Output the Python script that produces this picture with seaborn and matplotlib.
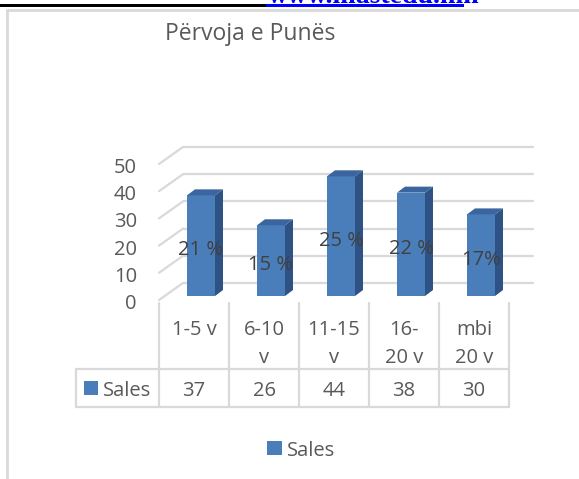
import pandas as pd
import seaborn as sns
import matplotlib.pyplot as plt
from matplotlib.patches import Polygon, Rectangle
from matplotlib.transforms import ScaledTranslation, blended_transform_factory

# data
categories = ['1-5 v', '6-10 v', '11-15 v', '16-20 v', 'mbi 20 v']
category_lines = [['1-5 v'], ['6-10', 'v'], ['11-15', 'v'], ['16-', '20 v'], ['mbi', '20 v']]
sales = [37, 26, 44, 38, 30]
pct_labels = ['21 %', '15 %', '25 %', '22 %', '17%']
y_ticks = [0, 10, 20, 30, 40, 50]
series_name = 'Sales'
chart_title = 'Përvoja e Punës'
link_text = 'www.mastedu.mn'

sns.set_theme(style='white')
plt.rcParams['font.family'] = ['Open Sans', 'DejaVu Sans']

FRONT = '#4a7ebb'
SIDE = '#2f5285'
TOP = '#3a659e'
GRID = '#d9d9d9'
TXT = '#595959'
FS = 14.5

W, H = 579, 479
fig = plt.figure(figsize=(W / 100, H / 100), dpi=100)

# overlay in pixel units for frame, table and legend
ov = fig.add_axes([0, 0, 1, 1])
ov.set_xlim(0, W)
ov.set_ylim(H, 0)
ov.axis('off')

# front plane of the 3d plot
x0, x1, y0, y1 = 159, 509, 300, 164
ax = fig.add_axes([x0 / W, 1 - y0 / H, (x1 - x0) / W, (y0 - y1) / H])

df = pd.DataFrame({'category': categories, 'sales': sales})
sns.barplot(data=df, x='category', y='sales', order=categories, color=FRONT,
            saturation=1, width=0.4, ax=ax)
ax.set_xlim(-0.5, 4.5)
ax.set_ylim(0, 50)
ax.axis('off')

px_x = (x1 - x0) / len(categories)
px_y = (y0 - y1) / 50


def shift(dx, dy):
    return ax.transData + ScaledTranslation(dx / 100, dy / 100, fig.dpi_scale_trans)


# back wall gridlines + floor diagonals
for v in y_ticks:
    ax.plot([-0.5, 4.5], [v, v], transform=shift(24, 17), color=GRID, lw=1.6,
            clip_on=False, zorder=0)
    ax.plot([-0.5, -0.5 + 24 / px_x], [v, v + 17 / px_y], color=GRID, lw=1.6,
            clip_on=False, zorder=0)

# 3d bars
bar_tr = shift(7, 4)
ddx, ddy = 8 / px_x, 6 / px_y
for p, lab in zip(ax.patches, pct_labels):
    p.set_transform(bar_tr)
    p.set_linewidth(0)
    p.set_zorder(2)
    xl, w, h = p.get_x(), p.get_width(), p.get_height()
    side = Polygon([(xl + w, 0), (xl + w, h), (xl + w + ddx, h + ddy), (xl + w + ddx, ddy)],
                   closed=True, facecolor=SIDE, lw=0, transform=bar_tr, zorder=2, clip_on=False)
    top = Polygon([(xl, h), (xl + w, h), (xl + w + ddx, h + ddy), (xl + ddx, h + ddy)],
                  closed=True, facecolor=TOP, lw=0, transform=bar_tr, zorder=2, clip_on=False)
    ax.add_patch(side)
    ax.add_patch(top)
    ax.text(xl + w / 2, h / 2, lab, transform=shift(7, -5.5), ha='center', va='baseline',
            fontsize=FS, color='#404040', zorder=3)

# y tick labels
tick_tr = blended_transform_factory(ov.transData, ax.transData) + \
    ScaledTranslation(0, -9 / 100, fig.dpi_scale_trans)
for v in y_ticks:
    ov.text(137, v, str(v), transform=tick_tr, ha='right', va='baseline',
            fontsize=FS, color=TXT)

# data table
for k in range(len(categories) + 1):
    xx = x0 + k * px_x
    ov.plot([xx, xx], [303, 407], color=GRID, lw=1.6)
ov.plot([76, x1], [369, 369], color=GRID, lw=1.6)
ov.plot([76, x1], [407, 407], color=GRID, lw=1.6)
ov.plot([76, 76], [369, 407], color=GRID, lw=1.6)

col_tr = blended_transform_factory(ax.transData, ov.transData)
for i, (lines, val) in enumerate(zip(category_lines, sales)):
    for j, line in enumerate(lines):
        ov.text(i, 335 + 28 * j, line, transform=col_tr, ha='center', va='baseline',
                fontsize=FS, color=TXT)
    ov.text(i, 396, str(val), transform=col_tr, ha='center', va='baseline',
            fontsize=FS, color=TXT)
ov.add_patch(Rectangle((84, 381), 14, 14, facecolor=FRONT, lw=0))
ov.text(103, 396, series_name, ha='left', va='baseline', fontsize=FS, color=TXT)

# legend
ov.add_patch(Rectangle((267, 441), 15, 14, facecolor=FRONT, lw=0))
ov.text(287, 456, series_name, ha='left', va='baseline', fontsize=FS, color=TXT)

# title
ov.text(165, 40, chart_title, ha='left', va='baseline', fontsize=16.5, color=TXT)

# chart frame and page remnants at the top
ov.plot([6.5, 6.5], [9.5, H], color=GRID, lw=2)
ov.plot([6.5, W], [9.5, 9.5], color=GRID, lw=2)
ov.add_patch(Rectangle((0, 3.5), 266, 3.5, facecolor='black', lw=0))
ov.add_patch(Rectangle((266, 4), 198, 3, facecolor='#0000ff', lw=0))
ov.text(268, 3, link_text, ha='left', va='baseline', fontsize=20, color='#0000ff',
        fontweight='bold', family=['Liberation Serif', 'DejaVu Serif'])

fig.savefig('out.png', dpi=100)
